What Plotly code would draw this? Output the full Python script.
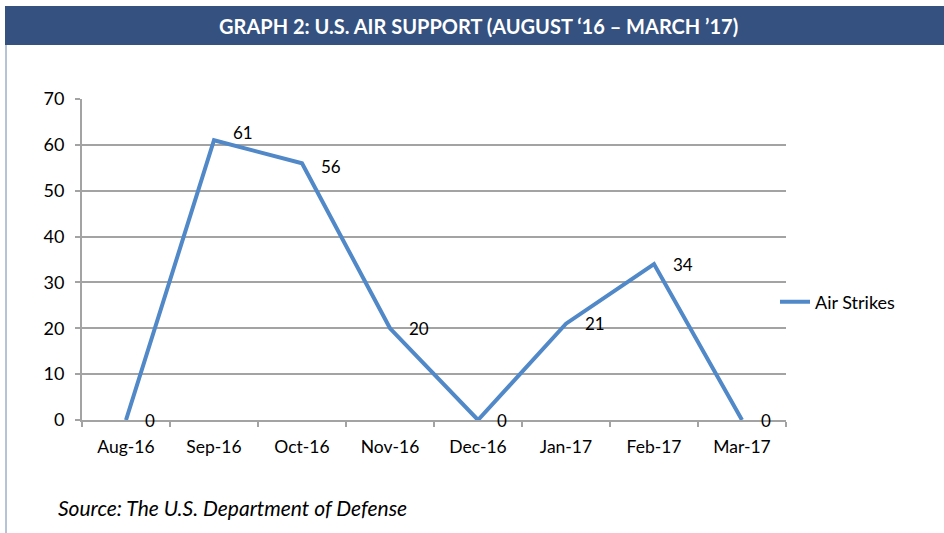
import plotly.graph_objects as go

months = ["Aug-16", "Sep-16", "Oct-16", "Nov-16", "Dec-16", "Jan-17", "Feb-17", "Mar-17"]
air_strikes = [0, 61, 56, 20, 0, 21, 34, 0]
y_ticks = [0, 10, 20, 30, 40, 50, 60, 70]

W, H = 944, 533
L, R, T, B = 82, 158, 99, 113
pw, ph = W - L - R, H - T - B

def px_x(p):
    return (p - L) / pw

def px_y(p):
    return (H - B - p) / ph

FONT = "Lato"
GRID = "#a3a3a3"
LINE = "#5088c8"

fig = go.Figure()
fig.add_trace(go.Scatter(
    x=months, y=air_strikes, mode="lines", name="Air Strikes",
    line=dict(color=LINE, width=4), cliponaxis=False,
))

for m, v in zip(months, air_strikes):
    fig.add_annotation(x=m, y=v, text=str(v), showarrow=False, xanchor="left",
                       xshift=17, yshift=8 if v == 61 else (-3 if v == 56 else 0),
                       font=dict(family=FONT, size=17, color="#000"))

# title bar
fig.add_shape(type="rect", xref="paper", yref="paper",
              x0=px_x(5), x1=px_x(944), y0=px_y(45), y1=px_y(6),
              fillcolor="#34517f", line=dict(width=0), layer="below")
fig.add_shape(type="line", xref="paper", yref="paper",
              x0=px_x(6), x1=px_x(6), y0=px_y(45), y1=px_y(533),
              line=dict(color="#6f86ad", width=1))
fig.add_annotation(xref="paper", yref="paper", x=px_x(478), y=px_y(26),
                   xanchor="center", yanchor="middle",
                   text="<b>GRAPH 2: U.S. AIR SUPPORT (AUGUST \u201816 \u2013 MARCH \u201917)</b>",
                   showarrow=False, font=dict(family=FONT, size=20, color="white"))
fig.add_annotation(xref="paper", yref="paper", x=px_x(56), y=px_y(507),
                   xanchor="left", yanchor="middle",
                   text="<i>Source: The U.S. Department of Defense</i>",
                   showarrow=False, font=dict(family=FONT, size=21, color="#000"))

fig.update_layout(
    width=W, height=H, margin=dict(l=L, r=R, t=T, b=B),
    paper_bgcolor="white", plot_bgcolor="white",
    font=dict(family=FONT, size=18, color="#000"),
    showlegend=True,
    legend=dict(x=px_x(775), y=px_y(302), xanchor="left", yanchor="middle",
                font=dict(family=FONT, size=18), bgcolor="rgba(0,0,0,0)"),
    xaxis=dict(type="category", range=[-0.5, 7.5], tickson="boundaries",
               ticks="outside", ticklen=5,
               tickcolor=GRID, tickwidth=2, showline=True, linecolor=GRID, linewidth=2,
               showgrid=False, zeroline=False, tickfont=dict(size=17.5),
               ticklabelstandoff=10),
    yaxis=dict(range=[0, 70], tickvals=y_ticks, ticks="outside", ticklen=5,
               tickcolor=GRID, tickwidth=2, showline=True, linecolor=GRID, linewidth=2,
               showgrid=True, gridcolor=GRID, gridwidth=2, zeroline=False,
               tickfont=dict(size=18), ticklabelstandoff=7),
)

fig.write_html("out.html", config={"displayModeBar": False},
               post_script="document.body.style.margin='0';")
